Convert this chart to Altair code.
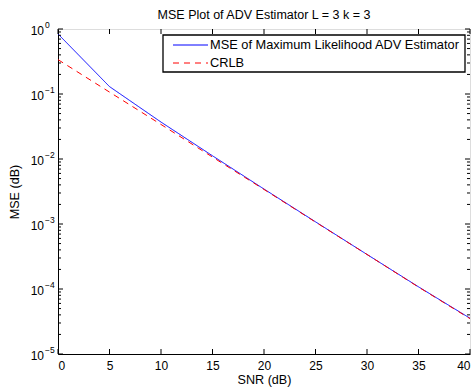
import altair as alt
import pandas as pd

# ---- data ----
snr = [0, 5, 10, 15, 20, 25, 30, 35, 40]
mse = [0.84, 0.13, 0.037, 0.0112, 0.00345, 0.00108, 0.00034, 0.000108, 0.0000355]
crlb = [0.338, 0.107, 0.034, 0.0107, 0.0034, 0.00107, 0.00034, 0.000107, 0.000035]
series_names = ["MSE of Maximum Likelihood ADV Estimator", "CRLB"]
series_colors = ["#0000ff", "#ff0000"]
series_dash = [[1, 0], [6, 5]]
chart_title = "MSE Plot of ADV Estimator L = 3 k = 3"
x_title = "SNR (dB)"
y_title = "MSE (dB)"
x_ticks = [0, 5, 10, 15, 20, 25, 30, 35, 40]
y_decades = [1, 1e-1, 1e-2, 1e-3, 1e-4, 1e-5]
y_exponents = ["0", "\u22121", "\u22122", "\u22123", "\u22124", "\u22125"]
y_minor = [m * 10.0 ** e for e in range(-5, 0) for m in range(2, 10)]

FONT = "Liberation Sans"
W, H = 412, 325

df = pd.DataFrame({
    "snr": snr + snr,
    "value": mse + crlb,
    "series": [series_names[0]] * len(snr) + [series_names[1]] * len(snr),
})

xscale = alt.Scale(domain=[0, 40], nice=False, zero=False)
yscale = alt.Scale(type="log", domain=[1e-5, 1], nice=False)

x_axis = alt.Axis(values=x_ticks, tickSize=0, labelPadding=6, title=x_title,
                  titlePadding=2, domainColor="black", labelColor="black",
                  titleColor="black", grid=False, titleFontWeight="normal",
                  titleFont=FONT, titleFontSize=12.6, labelFont=FONT, labelFontSize=12)
y_axis = alt.Axis(values=y_decades, labels=False, ticks=False, title=y_title,
                  titlePadding=37, domainColor="black", titleColor="black",
                  grid=False, titleFontWeight="normal", titleFont=FONT,
                  titleFontSize=12.6)

lines = alt.Chart(df).mark_line(strokeWidth=1).encode(
    x=alt.X("snr:Q", scale=xscale, axis=x_axis),
    y=alt.Y("value:Q", scale=yscale, axis=y_axis),
    color=alt.Color("series:N", scale=alt.Scale(domain=series_names, range=series_colors), legend=None),
    strokeDash=alt.StrokeDash("series:N", scale=alt.Scale(domain=series_names, range=series_dash), legend=None),
)

xt = alt.Data(values=[{"x": v} for v in x_ticks])
yt = alt.Data(values=[{"y": v, "e": e} for v, e in zip(y_decades, y_exponents)])
ym = alt.Data(values=[{"y": v} for v in y_minor])

def xtick(y0, y1):
    return alt.Chart(xt).mark_rule(color="black", strokeWidth=1).encode(
        x=alt.X("x:Q", scale=xscale, axis=x_axis), y=alt.value(y0), y2=alt.value(y1))

def ytick(data, x0, x1):
    return alt.Chart(data).mark_rule(color="black", strokeWidth=1).encode(
        y=alt.Y("y:Q", scale=yscale, axis=y_axis), x=alt.value(x0), x2=alt.value(x1))

ticks = [
    xtick(H, H - 5), xtick(0, 5),
    ytick(yt, 0, 5), ytick(yt, W - 5, W),
    ytick(ym, 0, 3), ytick(ym, W - 3, W),
]

base_lbl = alt.Chart(yt).mark_text(align="right", baseline="middle", font=FONT, fontSize=12,
                                   color="black", dy=1.5).encode(
    y=alt.Y("y:Q", scale=yscale, axis=y_axis), x=alt.value(-14), text=alt.value("10"))
exp_lbl = alt.Chart(yt).mark_text(align="left", baseline="middle", font=FONT, fontSize=8.5,
                                  color="black", dy=-4).encode(
    y=alt.Y("y:Q", scale=yscale, axis=y_axis), x=alt.value(-13), text="e:N")

one = alt.Data(values=[{"a": 1}])
leg_box = alt.Chart(one).mark_rect(fill="white", stroke="black", strokeWidth=1.3).encode(
    x=alt.value(105), x2=alt.value(407), y=alt.value(6), y2=alt.value(43))

leg_layers = []
for i, (name, col, dash) in enumerate(zip(series_names, series_colors, series_dash)):
    ry = 16 + 18 * i
    leg_layers.append(
        alt.Chart(one).mark_rule(strokeWidth=1, color=col, strokeDash=dash).encode(
            x=alt.value(115), x2=alt.value(150), y=alt.value(ry)))
    leg_layers.append(
        alt.Chart(one).mark_text(align="left", baseline="middle", font=FONT, fontSize=12.8,
                                 color="black").encode(
            x=alt.value(152), y=alt.value(ry), text=alt.value(name)))

chart = alt.layer(
    lines, *ticks, base_lbl, exp_lbl, leg_box, *leg_layers
).properties(
    width=W, height=H,
    title=alt.TitleParams(chart_title, font=FONT, fontSize=12.5, fontWeight="normal",
                          color="black", offset=0, anchor="middle"),
    autosize=alt.AutoSizeParams(type="none"),
    padding={"left": 58, "top": 29, "right": 6, "bottom": 33},
).configure_view(stroke="black", strokeWidth=1).configure(background="white")

chart.save("out.html", embed_options={"renderer": "svg", "actions": False})
